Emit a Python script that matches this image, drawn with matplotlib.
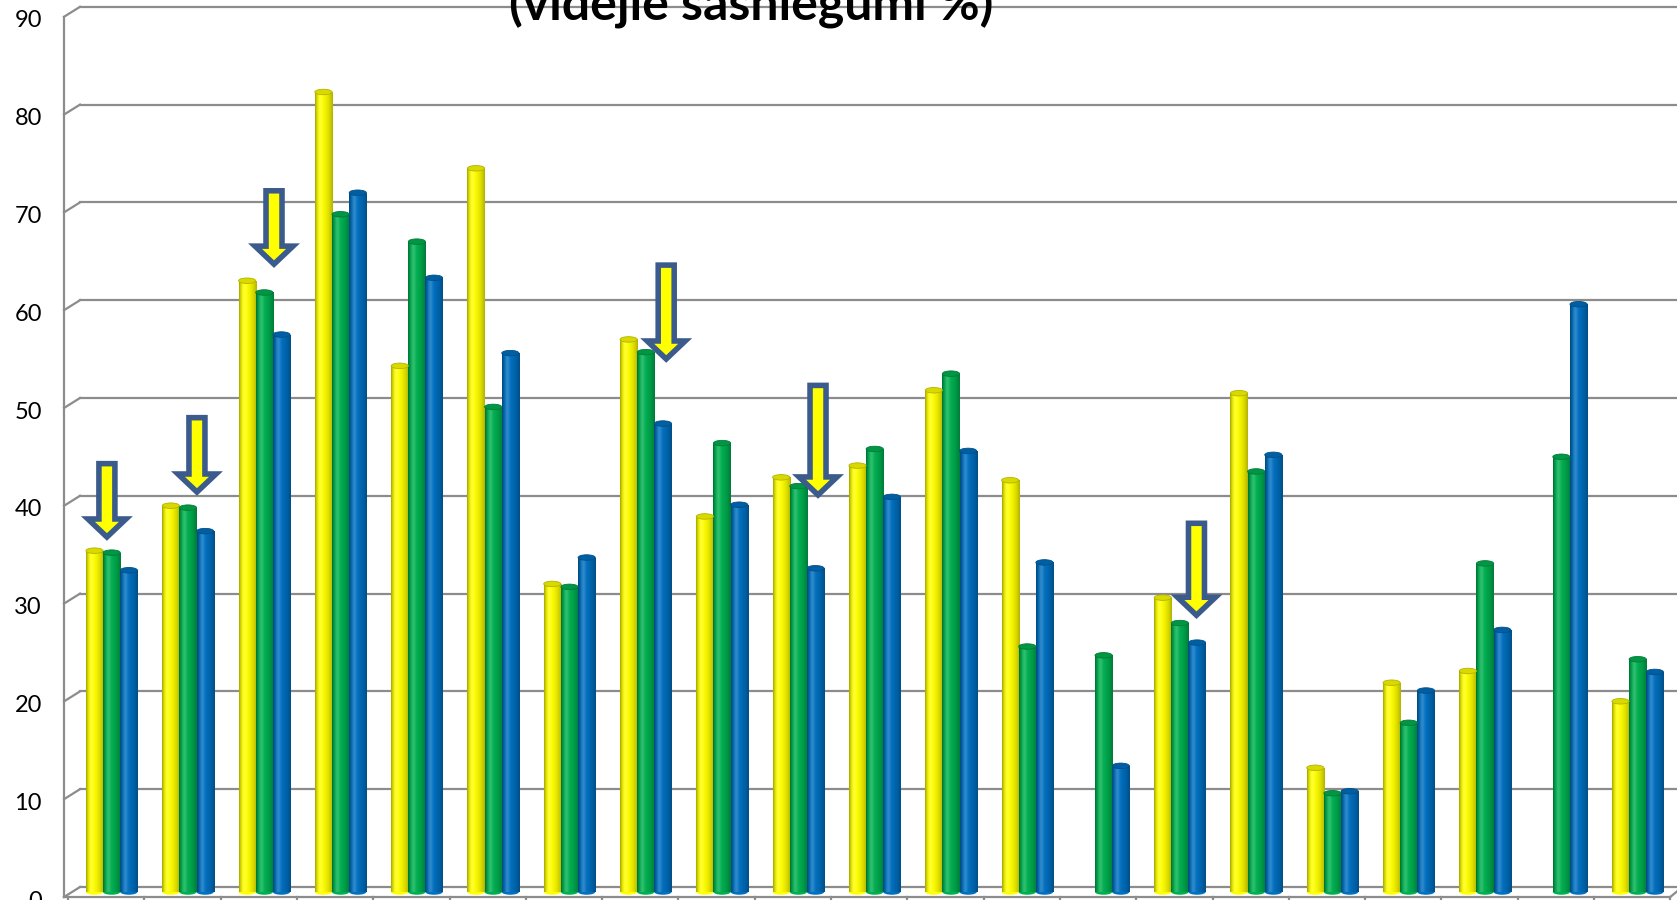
import numpy as np
import matplotlib
matplotlib.use("Agg")
import matplotlib.pyplot as plt
from matplotlib.patches import Ellipse, Polygon
from matplotlib.colors import to_rgb

# ---------------- data ----------------
yellow_vals = [34.9, 39.5, 62.5, 81.8, 53.8, 74.0, 31.5, 56.5, 38.4, 42.4, 43.6,
               51.3, 42.1, None, 30.1, 51.0, 12.7, 21.4, 22.6, None, 19.5]
green_vals = [34.7, 39.3, 61.3, 69.3, 66.5, 49.6, 31.2, 55.2, 45.9, 41.5, 45.3,
              53.0, 25.1, 24.2, 27.5, 43.0, 10.1, 17.3, 33.6, 44.5, 23.8]
blue_vals = [32.9, 36.9, 57.0, 71.5, 62.8, 55.1, 34.2, 47.9, 39.6, 33.1, 40.4,
             45.1, 33.7, 12.9, 25.5, 44.7, 10.3, 20.6, 26.8, 60.1, 22.5]
ytick_vals = [0, 10, 20, 30, 40, 50, 60, 70, 80, 90]
title_text = "(vidējie sasniegumi %)"

# annotation arrows: (x, y_top, y_tip) in data units
arrows = [(0.51, 43.8, 36.3), (1.69, 48.5, 40.9), (2.70, 71.7, 64.2),
          (7.84, 64.1, 54.5), (9.83, 51.8, 40.6), (14.79, 37.7, 28.3)]

series_colors = ["#FFFF00", "#00B050", "#0070C0"]

# ---------------- figure ----------------
W, H = 1677, 900
fig = plt.figure(figsize=(W / 100, H / 100), dpi=100)
fig.patch.set_facecolor("white")
n = len(green_vals)
left_px, base_px, step_px, unit_px = 68, 892, 76.3, 9.78
ax = fig.add_axes([left_px / W, (H - base_px) / H, n * step_px / W, 90 * unit_px / H])
ax.set_xlim(0, n)
ax.set_ylim(0, 90)
ax.axis("off")

gcol = "#8C8C8C"
dxf = -4 / step_px        # front-left axis x
dxb = 12 / step_px        # back wall x
dyb = 5 / unit_px         # back gridline lift
dyf = -5 / unit_px        # front edge drop

# back gridlines + left wall stubs + labels
for v in ytick_vals:
    ax.plot([dxb, n + 1], [v + dyb, v + dyb], color=gcol, lw=1.6, clip_on=False, zorder=1)
    ax.plot([dxf, dxb], [v + dyf, v + dyb], color=gcol, lw=1.6, clip_on=False, zorder=1)
    ax.text(-26 / step_px, v + dyf - 4 / unit_px, str(v), ha="right", va="center",
            fontsize=17, family=["Lato", "DejaVu Sans"], clip_on=False)
# front left axis
ax.plot([dxf, dxf], [dyf, 90 + dyf], color=gcol, lw=1.6, clip_on=False, zorder=1)
# front bottom edge
ax.plot([dxf, n], [dyf, dyf], color=gcol, lw=1.6, clip_on=False, zorder=1)
ax.plot([n, n + 12 / step_px], [dyf, dyb], color=gcol, lw=1.6, clip_on=False, zorder=1)
for k in range(n + 1):
    ax.plot([k, k], [dyf, dyf - 6 / unit_px], color=gcol, lw=1.6, clip_on=False, zorder=1)


def cyl_grad(base, N=40):
    c = np.array(to_rgb(base))
    t = np.linspace(0, 1, N)
    f = np.where(t < 0.3, 1 - 0.35 * ((0.3 - t) / 0.3) ** 2,
                 1 - 0.30 * ((t - 0.3) / 0.7) ** 2)
    h = 0.18 * np.exp(-((t - 0.3) / 0.13) ** 2)
    rgb = c[None, :] * f[:, None] + h[:, None] * (1 - c[None, :] * f[:, None])
    rgb = np.clip(rgb, 0, 1)
    img = np.ones((1, N, 4))
    img[0, :, :3] = rgb
    return img


bw = 0.225
off = 0.235
ell_h = 5.5 / unit_px
for j, (vals, col) in enumerate(zip([yellow_vals, green_vals, blue_vals], series_colors)):
    xs = [k + off + j * bw for k in range(n) if vals[k] is not None]
    hs = [vals[k] for k in range(n) if vals[k] is not None]
    bars = ax.bar(xs, hs, width=bw, align="edge", color=col, linewidth=0, zorder=3)
    img = cyl_grad(col)
    dark = np.array(to_rgb(col)) * 0.85
    for b in bars:
        x0, w, hgt = b.get_x(), b.get_width(), b.get_height()
        ax.add_patch(Ellipse((x0 + w / 2, 0), w, ell_h, facecolor=col, lw=0,
                             zorder=2.9, clip_on=False))
        im = ax.imshow(img, extent=[x0, x0 + w, 0, hgt], aspect="auto",
                       interpolation="bilinear", zorder=3.1)
        im.set_clip_path(b)
        ax.add_patch(Ellipse((x0 + w / 2, hgt), w, ell_h, facecolor=dark,
                             edgecolor=np.array(to_rgb(col)) * 0.7, lw=0.6,
                             zorder=3.2, clip_on=False))

ax.set_xlim(0, n)
ax.set_ylim(0, 90)

# arrows
sw = 8 / step_px
hw = 19 / step_px
hl = 18 / unit_px
for (x, yt, yp) in arrows:
    pts = [(x - sw, yt), (x + sw, yt), (x + sw, yp + hl), (x + hw, yp + hl),
           (x, yp), (x - hw, yp + hl), (x - sw, yp + hl)]
    ax.add_patch(Polygon(pts, closed=True, facecolor="#FFFF00", edgecolor="#3B5B8C",
                         lw=4.0, joinstyle="miter", zorder=5, clip_on=False))

# title (partially cut off at the top like the reference)
t = fig.text(751 / W, 1 - 19 / H, title_text, ha="center", va="baseline",
             fontsize=30, fontweight="bold", family=["Lato", "DejaVu Sans"])
fig.canvas.draw()
bb = t.get_window_extent()
t.set_fontsize(30 * 485 / bb.width)

fig.savefig("out.png", dpi=100, facecolor="white")
